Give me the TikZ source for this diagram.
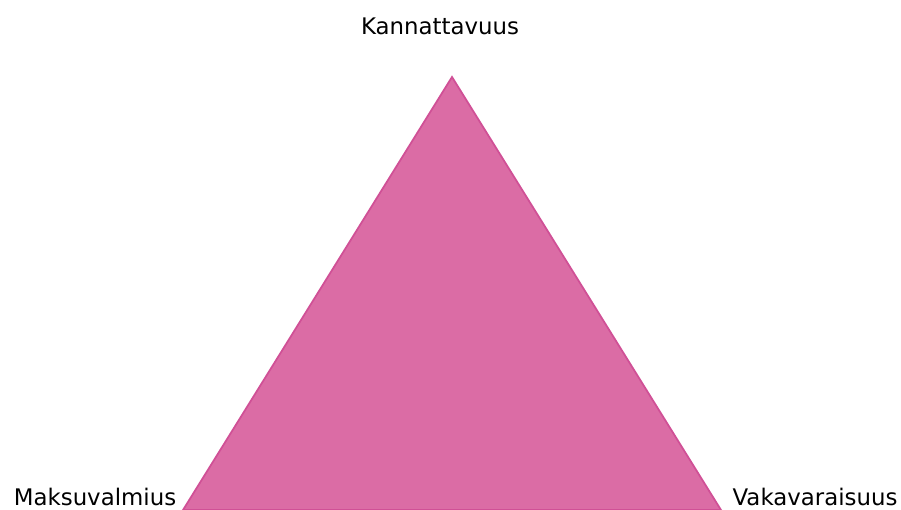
\documentclass[tikz,border=0pt]{standalone}
\usepackage{fontspec}
\setmainfont{DejaVu Sans}
\definecolor{trifill}{RGB}{219,108,165}
\definecolor{triedge}{RGB}{208,80,150}

\begin{document}
\begin{tikzpicture}[x=0.01cm,y=-0.01cm,
    label/.style={font=\fontsize{6.5pt}{8pt}\selectfont, inner sep=0pt, anchor=base}]

\useasboundingbox (0,0) rectangle (901,510);

% Corners of the triangle
\coordinate (A) at (452,77);
\coordinate (L) at (183,510);
\coordinate (R) at (721,510);

% Triangle
\filldraw[fill=trifill, draw=triedge, line width=0.5pt] (A) -- (L) -- (R) -- cycle;

% Labels
\node[label] (kan) at (440,35) {Kannattavuus};
\node[label] (mak) at (95,505) {Maksuvalmius};
\node[label] (vak) at (815,505) {Vakavaraisuus};

\end{tikzpicture}
\end{document}
